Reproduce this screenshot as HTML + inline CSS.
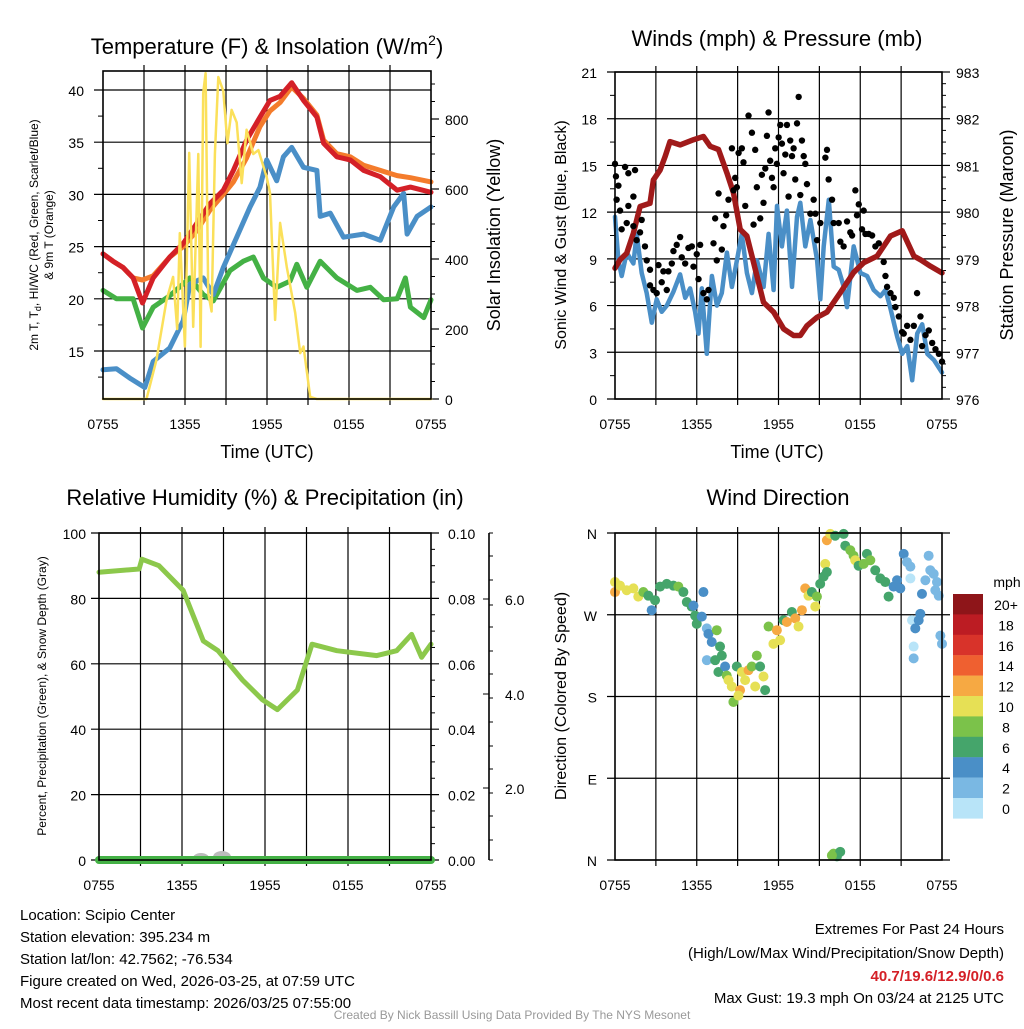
<!DOCTYPE html>
<html><head><meta charset="utf-8"><style>
body{margin:0;background:#fff;width:1024px;height:1024px;overflow:hidden}
svg text{font-family:"Liberation Sans",sans-serif;fill:#000}
</style></head><body>
<svg id="c" width="1024" height="1024" xmlns="http://www.w3.org/2000/svg"></svg>
<script>
// ---- Panel 1 data (hours since 0755) ----
const redT=[0,0.73,1.47,2.2,2.89,3.67,4.89,5.87,6.85,7.82,8.8,9.54,10.51,11.49,12.22,12.96,13.81,14.67,15.65,16.14,17.11,18.09,19.07,20.29,21.52,22.49,24];
const redV=[24.3,23.6,23.0,22.0,19.6,22.0,24.0,25.3,27.2,29.1,30.4,32.3,35.2,37.4,39.0,39.4,40.7,39.0,37.4,34.9,33.6,33.3,32.3,31.7,30.4,30.7,30.2];
const orangeV=[24.3,23.6,23.0,22.0,21.8,22.2,24.0,25.0,26.5,28.5,30.0,31.2,33.5,36.5,38.0,38.8,40.3,39.2,37.6,35.2,33.9,33.6,32.8,32.3,31.8,31.6,31.2];
const blueT=[0,0.98,1.96,3.06,3.67,4.89,5.87,6.36,7.33,8.07,8.8,9.78,10.76,11.49,11.98,12.71,13.2,13.81,14.67,15.65,15.89,16.63,17.6,19.07,20.29,21.27,22.0,22.25,22.98,24];
const blueV=[13.2,13.3,12.4,11.5,14.0,15.3,17.9,21.4,22.0,20.4,23.0,25.9,28.8,30.7,33.3,31.3,33.6,34.5,32.6,32.3,27.9,28.2,25.9,26.2,25.6,28.8,30.1,26.2,27.9,28.8];
const greenT=[0,0.98,2.2,2.89,3.67,4.89,6.36,7.33,8.07,9.29,10.27,11.0,11.74,12.71,13.69,14.18,14.91,15.89,17.11,18.58,19.56,20.54,21.52,22.13,22.49,23.47,24];
const greenV=[20.8,20,20,17.2,19.2,20.3,22,20.4,19.8,22.7,23.6,24,22,21.1,21.7,23.3,21.1,23.6,22,20.8,21.1,19.9,20,22,19.2,18.2,19.9];
const solT=[0,3.18,3.91,4.65,5.13,5.43,5.62,5.99,6.31,6.6,6.97,7.14,7.33,7.51,7.7,7.95,8.19,8.44,8.8,9.1,9.41,9.78,10.15,10.51,11.0,11.37,11.98,12.22,12.59,12.96,13.45,14.06,14.43,14.67,15.16,15.65,24];
const solV=[0,0,111,283,349,200,474,150,703,206,700,149,874,931,303,250,700,920,880,731,826,790,617,769,700,711,634,589,226,503,377,246,131,150,6,0,0];
const tempTicks=[15,20,25,30,35,40];
const solTicks=[0,200,400,600,800];
const timeLabels=["0755","1355","1955","0155","0755"];
// ---- Panel 2 data ----
const presT=[0,0.37,0.86,1.35,1.84,2.57,2.82,3.31,3.68,4.04,4.78,5.76,6.49,6.99,7.6,8.21,8.7,9.19,9.68,10.17,10.9,11.64,12.38,13.11,13.6,14.09,14.83,15.56,16.54,17.52,18.26,19.24,20.22,21.08,21.94,22.43,23.16,24];
const presV=[978.8,978.98,979.12,979.55,980.12,980.19,980.69,980.9,981.19,981.51,981.44,981.55,981.62,981.41,981.34,980.84,980.41,979.63,979.49,978.92,978.07,977.86,977.5,977.36,977.36,977.57,977.75,977.86,978.28,978.71,978.92,979.06,979.49,979.6,979.06,978.98,978.84,978.7];
const windT=[0,0.25,0.49,0.86,1.35,1.59,1.96,2.33,2.7,3.06,3.43,3.8,4.29,4.78,5.15,5.51,5.88,6.13,6.37,6.74,7.11,7.48,7.84,8.21,8.58,8.95,9.31,9.68,10.05,10.42,10.91,11.27,11.64,11.89,12.25,12.62,12.99,13.36,13.6,13.97,14.34,14.83,15.07,15.32,15.69,16.05,16.42,16.79,17.03,17.52,18.01,18.5,18.99,19.48,19.85,20.22,20.71,21.08,21.45,21.81,22.18,22.55,22.92,23.41,24];
const windV=[11.7,8.9,7.9,9.4,8.7,10.6,8.1,6.8,4.9,6.4,5.6,6.0,6.9,8.0,6.5,7.1,5.6,4.2,7.1,2.9,7.9,6.0,6.8,9.4,7.2,8.9,10.6,8.1,6.8,8.9,7.2,10.6,7.0,12.4,9.8,12.1,7.2,11.7,12.6,9.8,11.5,8.9,6.4,9.8,12.8,8.5,8.3,7.2,5.9,9.8,8.1,7.9,7.0,6.6,7.0,5.8,4.0,2.9,3.4,1.2,4.2,4.8,2.9,2.5,1.7];
const gustT=[0,0.07,0.25,0.74,0.12,0.98,1.47,1.35,0.37,0.98,0.86,0.49,1.35,1.59,1.96,1.84,2.2,2.33,2.57,2.57,2.82,3.19,3.06,3.43,3.55,3.8,3.92,4.17,4.29,4.53,4.78,4.9,5.15,5.39,5.64,5.76,6.0,6.13,6.25,6.49,6.74,6.86,7.23,7.35,7.6,7.47,7.84,7.96,8.16,8.33,8.58,8.7,8.82,8.94,9.07,9.31,9.43,9.56,9.8,10.05,10.17,10.29,10.41,10.66,10.78,10.9,11.03,11.15,11.27,11.39,11.52,11.64,11.76,11.88,12.01,12.13,12.25,12.37,12.5,12.62,12.74,12.86,12.99,13.11,13.23,13.36,13.48,13.6,13.72,13.85,13.97,14.09,14.34,14.58,14.71,14.83,15.07,15.44,15.56,15.68,15.93,16.05,16.42,16.54,16.78,17.03,17.27,17.4,17.64,17.76,17.89,18.13,18.25,18.38,18.62,18.87,19.11,19.36,19.72,19.85,19.97,20.22,20.46,20.58,20.83,21.07,21.19,21.44,21.68,21.93,22.17,22.42,22.54,22.79,23.03,23.28,23.52,23.77,24];
const gustV=[15.1,14.3,13.7,14.9,12.8,14.5,14.7,13.0,12.1,12.4,11.3,10.9,11.1,10.2,11.5,10.7,9.8,8.9,8.3,7.3,7.0,8.6,6.8,7.5,8.2,7.0,8.2,8.7,9.5,9.9,10.4,9.1,8.7,9.7,9.8,8.5,9.3,7.7,9.9,6.8,6.4,7.0,10.0,11.6,13.2,8.9,9.6,11.1,11.8,12.8,16.1,13.4,14.2,13.6,15.8,16.1,15.2,12.4,18.2,17.1,11.2,16.0,13.6,11.6,14.4,12.6,14.8,16.9,18.4,15.3,14.2,13.6,16.1,15.1,16.8,17.6,16.4,14.5,15.7,17.6,13.0,16.6,15.6,16.1,14.1,17.7,19.4,13.1,16.6,15.6,15.1,13.8,11.9,12.8,11.9,10.2,11.3,15.5,16.0,14.1,12.8,11.3,11.3,10.1,9.8,11.4,10.7,10.5,13.4,11.8,12.5,10.9,12.1,10.6,10.6,10.5,9.8,10.0,8.8,7.9,7.2,6.8,6.5,5.9,5.3,4.3,4.2,4.7,3.8,4.7,6.8,5.3,3.4,4.1,4.4,3.6,3.2,2.9,2.4];
const windTicks=[0,3,6,9,12,15,18,21];
const presTicks=[976,977,978,979,980,981,982,983];
// ---- Panel 3 data ----
const rhT=[0,2.9,3.1,4.34,6.08,7.54,8.6,10.38,11.82,12.9,14.34,15.4,17.2,20.08,21.52,22.6,23.32,24];
const rhV=[88,89,92,90,82.5,67,64,55,49,46,52,66,64,62.5,64,69,62,66];
const rhTicks=[0,20,40,60,80,100];
const precTicks=["0.00","0.02","0.04","0.06","0.08","0.10"];
const snowLabels=["2.0","4.0","6.0"];
// ---- Panel 4 data ----
const dirT=[0,0,0.37,0.86,1.35,1.71,2.08,2.45,2.69,2.94,3.31,3.8,4.29,4.65,5.02,5.27,5.63,5.76,5.88,6.0,6.37,6.49,6.74,6.86,7.1,7.47,7.71,7.84,6.74,7.35,7.59,8.08,8.2,8.33,8.57,8.69,8.94,9.31,9.55,9.8,10.04,10.41,10.65,10.9,11.02,10.29,9.18,9.06,11.27,11.63,11.88,12.12,12.37,12.61,12.98,13.23,13.47,13.72,13.96,14.2,14.45,14.82,14.7,15.43,15.31,15.55,15.06,15.55,15.8,16.16,16.78,16.9,17.27,17.51,17.63,17.88,18.25,18.49,18.74,19.1,19.47,19.84,20.08,20.45,20.7,20.94,21.19,21.43,21.68,21.68,21.8,21.92,21.92,22.04,22.29,22.41,22.53,22.78,23.02,23.14,23.39,23.63,23.51,23.76,23.88,24,16.04,16.29,16.53,15.92];
const dirDeg=[306,295,302,297,299,290,295,291,275,286,301,304,302,301,295,284,279,280,269,260,268,295,255,249,240,253,235,225,220,220,207,213,203,198,191,174,213,207,198,209,213,225,213,202,187,191,187,181,257,238,253,242,264,262,273,266,257,275,299,291,295,290,279,326,312,317,304,352,359,357,359,346,341,335,330,324,326,337,330,319,310,306,290,301,308,299,337,328,323,310,264,235,222,255,264,271,293,308,335,319,315,306,297,291,247,238,7,4,9,5];
const dirSpd=[10,12,10,10,10,10,8,6,4,6,6,6,6,8,6,6,6,4,6,6,4,4,2,4,4,8,6,6,2,6,6,4,8,10,10,8,6,10,10,12,8,8,6,10,6,10,12,10,8,10,12,10,6,12,6,12,10,12,12,10,6,8,10,10,6,6,6,12,10,6,6,6,8,8,10,6,8,6,8,6,6,6,6,4,4,4,4,2,2,0,0,0,2,4,4,4,4,2,2,2,2,2,2,2,2,2,8,6,6,8];
const dirLabels=["N","E","S","W","N"];
const cbLabels=["20+","18","16","14","12","10","8","6","4","2","0"];
const cbColors=["#8e1519","#bc1c23","#d8332a","#ef6030","#f6a943","#e6e055","#7bc24a","#45a56b","#4a8fc7","#7ab8e3","#b8e4f8"];

const S=document.getElementById('c');const NS="http://www.w3.org/2000/svg";
function el(tag,attrs,txt){const e=document.createElementNS(NS,tag);for(const k in attrs)e.setAttribute(k,attrs[k]);if(txt!==undefined)e.textContent=txt;S.appendChild(e);return e;}
function lin(d0,d1,r0,r1){return v=>r0+(v-d0)/(d1-d0)*(r1-r0);}
function path(xs,ys,xf,yf,color,w,name){let d="";for(let i=0;i<xs.length;i++)d+=(i?"L":"M")+xf(xs[i]).toFixed(1)+" "+yf(ys[i]).toFixed(1);const p=el('path',{d:d,fill:'none',stroke:color,'stroke-width':w,'stroke-linejoin':'round','stroke-linecap':'round'});

return p;}
function txt(x,y,s,size,anchor,name,extra){const t=el('text',Object.assign({x:x,y:y,'font-size':size,'text-anchor':anchor||'middle'},extra||{}),s);

return t;}
function rtxt(x,y,s,size,name){const t=el('text',{x:0,y:0,'font-size':size,'text-anchor':'middle',transform:`translate(${x},${y}) rotate(-90)`},s);

return t;}
function panelFrame(L,T,R,B){
  for(let i=1;i<8;i++){const x=L+(R-L)*i/8;const g=el('line',{x1:x,y1:T,x2:x,y2:B,stroke:'#000','stroke-width':1.2});
  
  
  el('line',{x1:x,y1:B,x2:x,y2:B+6,stroke:'#000','stroke-width':1.2});el('line',{x1:x,y1:T,x2:x,y2:T-6,stroke:'#000','stroke-width':1.2});}
  for(let i=0;i<5;i++){const x=L+(R-L)*i/4;txt(x,B+30,timeLabels[i],14,'middle','x-tick-label');}
}
function frame(L,T,R,B,name){const r=el('rect',{x:L,y:T,width:R-L,height:B-T,fill:'none',stroke:'#000','stroke-width':1.6});

}

// ===== Panel 1 =====
{const L=103,T=71,R=431,B=399;
const x=lin(0,24,L,R),y=lin(15,40,351,90),ys=lin(0,800,399,119);
txt(267,54,"Temperature (F) & Insolation (W/m",22,'middle','temp-panel-title').innerHTML='Temperature (F) &amp; Insolation (W/m<tspan dy="-9" font-size="14">2</tspan><tspan dy="9">)</tspan>';
panelFrame(L,T,R,B);
tempTicks.forEach(v=>{const yy=y(v);el('line',{x1:L-9,y1:yy,x2:R,y2:yy,stroke:'#000','stroke-width':1.2});txt(L-19,yy+6,String(v),14,'end','left-tick-label');});
for(let v=12.5;v<41;v+=5){el('line',{x1:L-5,y1:y(v),x2:L,y2:y(v),stroke:'#000','stroke-width':1});}
solTicks.forEach(v=>{const yy=ys(v);el('line',{x1:R,y1:yy,x2:R+8,y2:yy,stroke:'#000','stroke-width':1.2});txt(R+14,yy+6,String(v),14,'start','right-tick-label');});
for(let v=50;v<940;v+=50){if(v%200)el('line',{x1:R,y1:ys(v),x2:R+4,y2:ys(v),stroke:'#000','stroke-width':1});}
path(greenT,greenV,x,y,'#44b145',5,'dewpoint-line');
path(blueT,blueV,x,y,'#4a8fc7',5,'windchill-line');
path(redT,orangeV,x,y,'#f47c2c',5,'temp-9m-line');
path(redT,redV,x,y,'#d42027',5,'temp-2m-line');
path(solT,solV,x,ys,'#fbe05a',2.5,'insolation-line');
frame(L,T,R,B,'temp-plot-frame');
txt(267,458,"Time (UTC)",18,'middle','temp-x-axis-title');
const a=rtxt(38,235,"",12,'temp-y-axis-title');a.innerHTML='2m T, T<tspan dy="3" font-size="9">d</tspan><tspan dy="-3">, HI/WC (Red, Green, Scarlet/Blue)</tspan>';
rtxt(53,235,"& 9m T (Orange)",12,'temp-y-axis-title-2');
rtxt(500,235,"Solar Insolation (Yellow)",18,'insolation-axis-title');
}
// ===== Panel 2 =====
{const L=615,T=72,R=942,B=399;
const x=lin(0,24,L,R),y=lin(0,21,399,72),yp=lin(976,983,399,72);
txt(777,46,"Winds (mph) & Pressure (mb)",22,'middle','wind-panel-title');
panelFrame(L,T,R,B);
windTicks.forEach(v=>{const yy=y(v);el('line',{x1:L-8,y1:yy,x2:R,y2:yy,stroke:'#000','stroke-width':1.2});txt(L-18,yy+6,String(v),14,'end','wind-tick-label');});
for(let v=1.5;v<21;v+=3){el('line',{x1:L-5,y1:y(v),x2:L,y2:y(v),stroke:'#000','stroke-width':1});}
presTicks.forEach(v=>{const yy=yp(v);el('line',{x1:R,y1:yy,x2:R+8,y2:yy,stroke:'#000','stroke-width':1.2});txt(R+14,yy+6,String(v),14,'start','pressure-tick-label');});
for(let v=976.25;v<983;v+=0.25){if(Math.abs(v-Math.round(v))>0.01)el('line',{x1:R,y1:yp(v),x2:R+4,y2:yp(v),stroke:'#000','stroke-width':1});}
path(windT,windV,x,y,'#4a8fc7',4.5,'sonic-wind-line');
path(presT,presV,x,yp,'#a01a1a',5.5,'pressure-line');
gustV.forEach((v,i)=>{const c=el('circle',{cx:x(gustT[i]),cy:y(v),r:3.2,fill:'#000'});

});
frame(L,T,R,B,'wind-plot-frame');
txt(777,458,"Time (UTC)",18,'middle','wind-x-axis-title');
rtxt(566,235,"Sonic Wind & Gust (Blue, Black)",16,'wind-y-axis-title');
rtxt(1013,235,"Station Pressure (Maroon)",18,'pressure-axis-title');
}
// ===== Panel 3 =====
{const L=99,T=533,R=431,B=860;
const x=lin(0,24,L,R),y=lin(0,100,860,533);
txt(265,505,"Relative Humidity (%) & Precipitation (in)",22,'middle','rh-panel-title');
panelFrame(L,T,R,B);
rhTicks.forEach((v,i)=>{const yy=y(v);el('line',{x1:L-8,y1:yy,x2:R+8,y2:yy,stroke:'#000','stroke-width':1.2});txt(L-13,yy+6,String(v),14,'end','rh-tick-label');txt(R+17,yy+6,precTicks[i],14,'start','precip-tick-label');});
for(let v=5;v<100;v+=5){if(v%20)el('line',{x1:R,y1:y(v),x2:R+4,y2:y(v),stroke:'#000','stroke-width':1});}
el('line',{x1:489,y1:533,x2:489,y2:860,stroke:'#000','stroke-width':1.6});
[533,556,580,605,627,651,674,698,722,746,769,793,816,840,860].forEach(yy=>el('line',{x1:489,y1:yy,x2:493,y2:yy,stroke:'#000','stroke-width':1}));
[788,694,599].forEach((yy,i)=>{el('line',{x1:483,y1:yy,x2:489,y2:yy,stroke:'#000','stroke-width':1});txt(505,yy+6,snowLabels[i],14,'start','snow-tick-label');});
path(rhT,rhV,x,y,'#8cc84b',5,'rh-line');
const sb=el('ellipse',{cx:201,cy:858,rx:8,ry:5,fill:'#bbb'});
const sb2=el('ellipse',{cx:222,cy:857,rx:9,ry:6,fill:'#bbb'});
const pl=el('line',{x1:L,y1:860,x2:R,y2:860,stroke:'#44b145','stroke-width':8,'stroke-linecap':'round'});
el('line',{x1:L,y1:860,x2:R,y2:860,stroke:'#000','stroke-width':1});
frame(L,T,R,B,'rh-plot-frame');
rtxt(46,696,"Percent, Precipitation (Green), & Snow Depth (Gray)",12,'rh-y-axis-title');
}
// ===== Panel 4 =====
{const L=615,T=533,R=942,B=860;
const x=lin(0,24,L,R),y=lin(0,360,860,533);
txt(778,505,"Wind Direction",22,'middle','direction-panel-title');
panelFrame(L,T,R,B);
dirLabels.forEach((s,i)=>{const yy=y(i*90);el('line',{x1:L-8,y1:yy,x2:R+8,y2:yy,stroke:'#000','stroke-width':1.2});txt(L-18,yy+6,s,14,'end','direction-tick-label');});
function col(s){const k=Math.max(0,Math.min(10,Math.floor(s/2)));return cbColors[10-k];}
dirT.forEach((t,i)=>{const c=el('circle',{cx:x(t),cy:y(dirDeg[i]),r:5,fill:col(dirSpd[i])});

});
frame(L,T,R,B,'direction-plot-frame');
rtxt(566,696,"Direction (Colored By Speed)",16,'direction-y-axis-title');
txt(1007,587,"mph",14,'middle','colorbar-title');
cbColors.forEach((c,i)=>{const r=el('rect',{x:953,y:594+i*20.4,width:30,height:20.6,fill:c});


txt(1006,610+i*20.4,cbLabels[i],14,'middle','colorbar-label');});
}
// ===== Footer =====
["Location: Scipio Center","Station elevation: 395.234 m","Station lat/lon: 42.7562; -76.534","Figure created on Wed, 2026-03-25, at 07:59 UTC","Most recent data timestamp: 2026/03/25 07:55:00"].forEach((s,i)=>txt(20,920+i*22,s,15,'start','station-info-line'));
txt(1004,934,"Extremes For Past 24 Hours",15,'end','extremes-title');
txt(1004,958,"(High/Low/Max Wind/Precipitation/Snow Depth)",15,'end','extremes-subtitle');
txt(1004,981,"40.7/19.6/12.9/0/0.6",15,'end','extremes-values',{'font-weight':'bold',style:'fill:#d42027'});
txt(1004,1003,"Max Gust: 19.3 mph On 03/24 at 2125 UTC",15,'end','max-gust-text');
txt(512,1019,"Created By Nick Bassill Using Data Provided By The NYS Mesonet",12,'middle','credit-text',{style:'fill:#999'});
</script>
</body></html>
